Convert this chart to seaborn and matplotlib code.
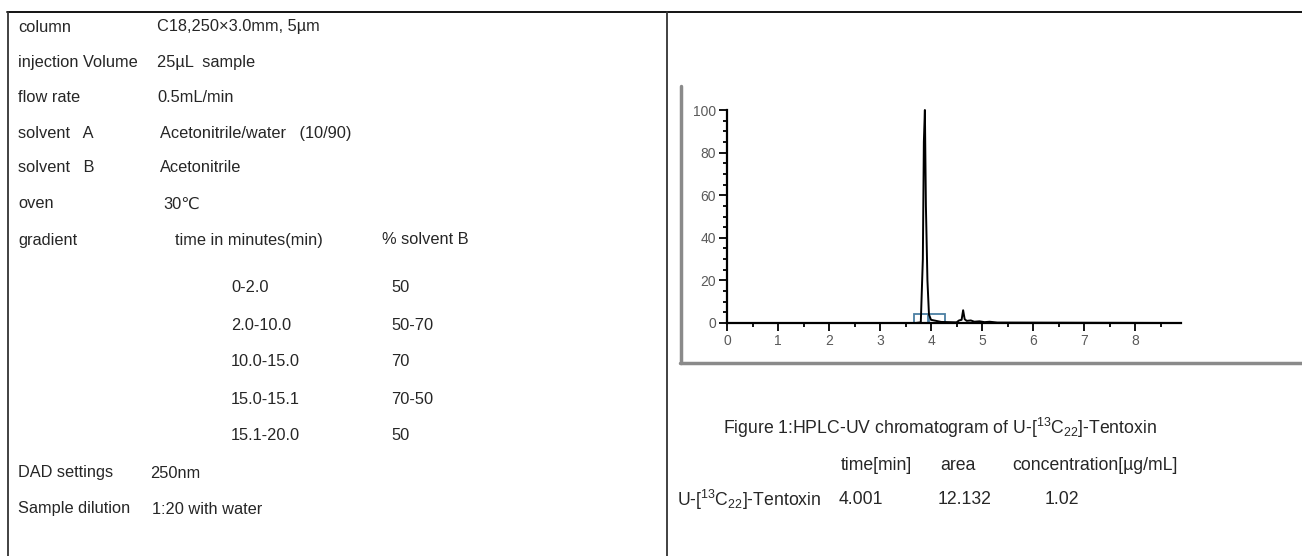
import matplotlib
matplotlib.use("Agg")
import matplotlib.pyplot as plt
import seaborn as sns
import pandas as pd
from matplotlib.patches import Rectangle
from matplotlib.lines import Line2D
from matplotlib.ticker import MultipleLocator

# ---------------- data ----------------
param_labels = ["column", "injection Volume", "flow rate", "solvent   A", "solvent   B", "oven", "gradient"]
param_values = ["C18,250×3.0mm, 5µm", "25µL  sample", "0.5mL/min", "Acetonitrile/water   (10/90)",
                "Acetonitrile", "30℃", "time in minutes(min)"]
gradient_times = ["0-2.0", "2.0-10.0", "10.0-15.0", "15.0-15.1", "15.1-20.0"]
gradient_b = ["50", "50-70", "70", "70-50", "50"]
extra_labels = ["DAD settings", "Sample dilution"]
extra_values = ["250nm", "1:20 with water"]

chrom_time = [0.0, 3.70, 3.80, 3.84, 3.86, 3.88, 3.90, 3.93, 3.96, 4.00, 4.20, 4.50, 4.55,
              4.60, 4.63, 4.66, 4.70, 4.78, 4.85, 4.95, 5.05, 5.15, 5.30, 8.90]
chrom_signal = [0.0, 0.0, 0.3, 30, 85, 100, 55, 20, 4, 1.5, 0.5, 0.3, 1.2,
                1.5, 6.0, 1.8, 1.0, 1.2, 0.6, 0.8, 0.4, 0.6, 0.2, 0.0]
integ_start = [3.67, 3.96]
integ_end = [3.94, 4.27]
integ_height = [4, 4]

xticks = list(range(0, 9))
yticks = [0, 20, 40, 60, 80, 100]

caption = r"Figure 1:HPLC-UV chromatogram of U-[$\mathregular{^{13}C_{22}}$]-Tentoxin"
result_header = ["time[min]", "area", "concentration[µg/mL]"]
result_name = r"U-[$\mathregular{^{13}C_{22}}$]-Tentoxin"
result_values = ["4.001", "12.132", "1.02"]

# ---------------- style ----------------
sns.set_style("white")
plt.rcParams["font.family"] = ["Liberation Sans", "DejaVu Sans"]
plt.rcParams["mathtext.fontset"] = "custom"
plt.rcParams["mathtext.rm"] = "Liberation Sans"

W, H = 1302, 556
fig = plt.figure(figsize=(W / 100, H / 100), dpi=100)


def fx(px):
    return px / W


def fy(py):
    return 1 - py / H


FS = 11.8
FS_R = 12.7

# table borders
fig.add_artist(Line2D([fx(7), fx(1302)], [fy(12), fy(12)], color="black", lw=1.3))
fig.add_artist(Line2D([fx(7.5), fx(7.5)], [fy(12), fy(556)], color="#333333", lw=1.3))
fig.add_artist(Line2D([fx(666.5), fx(666.5)], [fy(12), fy(556)], color="#333333", lw=1.3))

# left text table
row_y = [27, 63, 98, 133, 168, 204, 240]
val_x = [157, 157, 157, 160, 160, 163, 175]
for lab, val, y, vx in zip(param_labels, param_values, row_y, val_x):
    fig.text(fx(18), fy(y), lab, fontsize=FS, va="center", ha="left")
    fig.text(fx(vx), fy(y), val, fontsize=FS, va="center", ha="left")
fig.text(fx(382), fy(240), "% solvent B", fontsize=FS, va="center", ha="left")

grad_y = [288, 325, 362, 399, 436]
for t, b, y in zip(gradient_times, gradient_b, grad_y):
    fig.text(fx(231), fy(y), t, fontsize=FS, va="center", ha="left")
    fig.text(fx(391), fy(y), b, fontsize=FS, va="center", ha="left")

for lab, val, y, vx in zip(extra_labels, extra_values, [473, 509], [150, 152]):
    fig.text(fx(18), fy(y), lab, fontsize=FS, va="center", ha="left")
    fig.text(fx(vx), fy(y), val, fontsize=FS, va="center", ha="left")

# chromatogram frame (gray)
fig.add_artist(Line2D([fx(681), fx(681)], [fy(86), fy(363)], color="#8a8a8a", lw=2.5))
fig.add_artist(Line2D([fx(680), fx(1302)], [fy(363), fy(363)], color="#8a8a8a", lw=2.5))

# chromatogram axes
x0_px, x1_px = 727, 727 + 8.9 * 51
y0_px, y1_px = 323, 110
ax = fig.add_axes([fx(x0_px), fy(y0_px), fx(x1_px - x0_px), (y0_px - y1_px) / H])
df = pd.DataFrame({"time": chrom_time, "signal": chrom_signal})
sns.lineplot(data=df, x="time", y="signal", ax=ax, color="black", lw=1.4, clip_on=False)
for s, e, h in zip(integ_start, integ_end, integ_height):
    ax.add_patch(Rectangle((s, 0), e - s, h, fill=False, edgecolor="#4b7fa3", lw=1.3, clip_on=False))

ax.set_xlim(0, 8.9)
ax.set_ylim(0, 100)
ax.set_xticks(xticks)
ax.set_yticks(yticks)
ax.xaxis.set_minor_locator(MultipleLocator(0.5))
ax.yaxis.set_minor_locator(MultipleLocator(5))
ax.tick_params(axis="both", which="major", direction="out", length=6, width=1.3,
               colors="black", labelcolor="#5a5a5a", labelsize=10, pad=2,
               bottom=True, left=True)
ax.tick_params(axis="both", which="minor", direction="out", length=3, width=1.3,
               colors="black", bottom=True, left=True)
ax.set_xlabel("")
ax.set_ylabel("")
for side in ["top", "right"]:
    ax.spines[side].set_visible(False)
for side in ["left", "bottom"]:
    ax.spines[side].set_color("black")
    ax.spines[side].set_linewidth(1.6)
ax.patch.set_alpha(0)

# caption and results
fig.text(fx(723), fy(428), caption, fontsize=FS_R, va="center", ha="left")
for txt, x in zip(result_header, [841, 940, 1012]):
    fig.text(fx(x), fy(465), txt, fontsize=FS_R, va="center", ha="left")
fig.text(fx(677), fy(500), result_name, fontsize=FS_R, va="center", ha="left")
for txt, x in zip(result_values, [839, 938, 1045]):
    fig.text(fx(x), fy(500), txt, fontsize=FS_R, va="center", ha="left")

fig.savefig("out.png", dpi=100)
